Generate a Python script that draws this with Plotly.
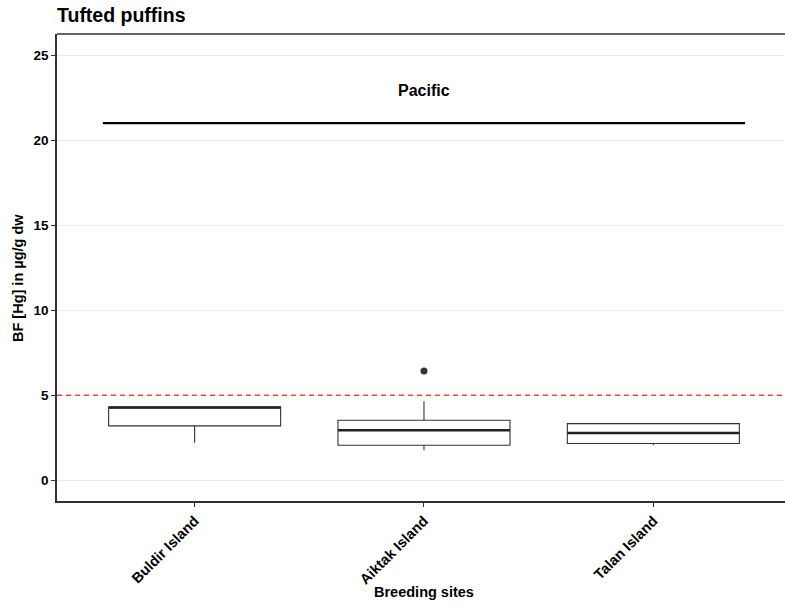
import plotly.graph_objects as go

sites = ["Buldir Island", "Aiktak Island", "Talan Island"]
q1 = [3.20, 2.06, 2.16]
median = [4.28, 2.94, 2.78]
q3 = [4.31, 3.53, 3.33]
lower_fence = [2.20, 1.76, 2.06]
upper_fence = [4.31, 4.65, 3.33]
outlier_sites = ["Aiktak Island"]
outlier_values = [6.43]
threshold = 5
region_label = "Pacific"
region_line_y = 21
region_label_y = 22.9
y_ticks = [0, 5, 10, 15, 20, 25]

FONT = "Liberation Sans, Arial, sans-serif"
W, H = 785, 608
ML, MR, MT, MB = 57, 0, 34, 107
PW, PH = W - ML - MR, H - MT - MB

fig = go.Figure()

fig.add_trace(go.Box(
    x=sites, q1=q1, median=median, q3=q3,
    lowerfence=lower_fence, upperfence=upper_fence,
    width=0.75, whiskerwidth=0, boxpoints=False,
    fillcolor="white", line=dict(color="#333333", width=1.1),
    showlegend=False, hoverinfo="skip",
))
# thicker median bars
fig.add_trace(go.Box(
    x=sites, q1=median, median=median, q3=median,
    lowerfence=median, upperfence=median,
    width=0.75, whiskerwidth=0, boxpoints=False,
    fillcolor="rgba(0,0,0,0)", line=dict(color="#222222", width=2.4),
    showlegend=False, hoverinfo="skip",
))
fig.add_trace(go.Scatter(
    x=outlier_sites, y=outlier_values, mode="markers",
    marker=dict(color="#333333", size=7),
    showlegend=False, hoverinfo="skip",
))

# threshold dashed line
fig.add_shape(type="line", xref="paper", x0=0, x1=1, yref="y",
              y0=threshold, y1=threshold,
              line=dict(color="#e8473f", width=1.4, dash="5px,4px"))
# region segment
fig.add_shape(type="line", xref="x", x0=-0.4, x1=2.4, yref="y",
              y0=region_line_y, y1=region_line_y,
              line=dict(color="black", width=2.4))
fig.add_annotation(x=1, y=region_label_y, xref="x", yref="y",
                   text="<b>" + region_label + "</b>", showarrow=False,
                   font=dict(family=FONT, size=16, color="black"))
# top border
fig.add_shape(type="line", xref="paper", x0=0, x1=1, yref="paper",
              y0=1, y1=1, line=dict(color="#333333", width=1.6))

# axis titles as annotations for exact placement
fig.add_annotation(x=1, xref="x", y=-(592 - (H - MB)) / PH, yref="paper",
                   text="<b>Breeding sites</b>", showarrow=False,
                   xanchor="center", yanchor="middle",
                   font=dict(family=FONT, size=14.5, color="black"))
fig.add_annotation(x=-(ML - 18) / PW, xref="paper",
                   y=1 - (278 - MT) / PH, yref="paper",
                   text="<b>BF [Hg] in µg/g dw</b>", showarrow=False,
                   textangle=-90, xanchor="center", yanchor="middle",
                   font=dict(family=FONT, size=14.5, color="black"))

fig.update_layout(
    width=W, height=H,
    margin=dict(l=ML, r=MR, t=MT, b=MB, autoexpand=False),
    paper_bgcolor="white", plot_bgcolor="white",
    font=dict(family=FONT, color="black"),
    title=dict(text="<b>Tufted puffins</b>", x=ML / W, xanchor="left",
               y=1 - 22 / H, yanchor="bottom",
               font=dict(family=FONT, size=19.5, color="black")),
)
fig.update_xaxes(
    type="category", categoryorder="array", categoryarray=sites,
    range=[-0.6, 2.574], automargin=False,
    showgrid=False, zeroline=False,
    showline=True, linecolor="#333333", linewidth=1.6,
    ticks="outside", ticklen=4, tickcolor="#333333", tickwidth=1.2,
    tickangle=-45,
    tickfont=dict(family=FONT, size=14.5, color="black"),
    ticktext=["<b>" + s + "</b>" for s in sites], tickvals=sites,
)
fig.update_yaxes(
    range=[-1.22, 26.24], automargin=False,
    tickvals=y_ticks, ticktext=["<b>%d</b>" % v for v in y_ticks],
    showgrid=True, gridcolor="#ebebeb", gridwidth=1,
    zeroline=False,
    showline=True, linecolor="#333333", linewidth=1.6,
    ticks="outside", ticklen=4, tickcolor="#333333", tickwidth=1.2,
    tickfont=dict(family=FONT, size=13.5, color="black"),
)

fig.write_html(
    "out.html",
    config={"displayModeBar": False},
    post_script="document.body.style.margin='0';document.body.style.overflow='hidden';",
)
